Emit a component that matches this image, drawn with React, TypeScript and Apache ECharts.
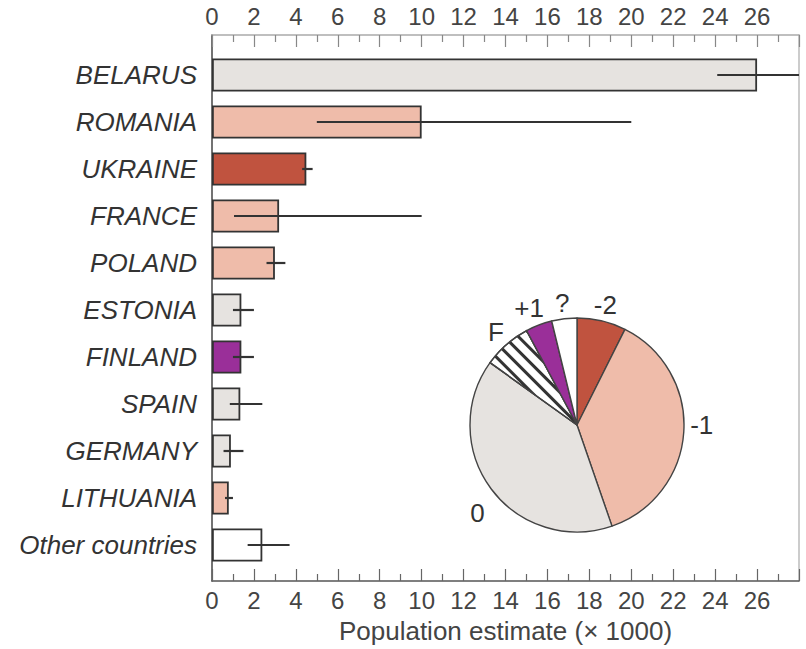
import React, { useEffect, useRef } from "react";
import * as echarts from "echarts";

const countries = [
  "BELARUS",
  "ROMANIA",
  "UKRAINE",
  "FRANCE",
  "POLAND",
  "ESTONIA",
  "FINLAND",
  "SPAIN",
  "GERMANY",
  "LITHUANIA",
  "Other countries",
];
const estimates = [26, 10, 4.5, 3.2, 3.0, 1.4, 1.4, 1.35, 0.9, 0.8, 2.4];
const errLow = [24.1, 5, 4.3, 1.05, 2.6, 1.0, 1.0, 0.85, 0.55, 0.62, 1.7];
const errHigh = [30, 20, 4.8, 10, 3.5, 2.0, 2.0, 2.4, 1.5, 1.0, 3.7];
const barColors = [
  "#e6e3e0",
  "#efbcaa",
  "#c0533f",
  "#efbcaa",
  "#efbcaa",
  "#e6e3e0",
  "#9a2f99",
  "#e6e3e0",
  "#e6e3e0",
  "#efbcaa",
  "#ffffff",
];

const pieLabels = ["-2", "-1", "0", "F", "+1", "?"];
const pieShares = [7.4, 37.3, 40.2, 7.3, 4.0, 3.8];
const pieColors = ["#c0533f", "#efbcaa", "#e6e3e0", "#ffffff", "#9a2f99", "#ffffff"];
const pieHatched = [false, false, false, true, false, false];

const axisMin = 0;
const axisMax = 28;
const axisInterval = 2;
const axisTitle = "Population estimate (\u00d7 1000)";

const FONT = "'Liberation Sans', Arial, Helvetica, sans-serif";

const labelOffsets: Record<string, number[]> = {
  "-1": [2, -8],
  "0": [-1, 14],
  "+1": [-4, -2],
};

export default function App() {
  const ref = useRef<HTMLDivElement>(null);

  useEffect(() => {
    if (!ref.current) return;
    const chart = echarts.init(ref.current, undefined, { renderer: "svg" });

    const tickAxisCommon = (position: "top" | "bottom", lineColor: string, tickColor: string) => ({
      type: "value",
      gridIndex: 0,
      position,
      min: axisMin,
      max: axisMax,
      interval: axisInterval,
      axisLine: { show: true, onZero: false, lineStyle: { color: lineColor, width: 1.5 } },
      axisTick: { show: true, inside: true, length: 12, lineStyle: { color: tickColor, width: 1.2 } },
      minorTick: { show: true, splitNumber: 2, length: 7, lineStyle: { color: tickColor, width: 1.2 } },
      splitLine: { show: false },
      minorSplitLine: { show: false },
      axisLabel: {
        show: true,
        showMaxLabel: false,
        fontSize: 24,
        color: "#444",
        fontFamily: FONT,
        margin: 7,
      },
    });

    const option: any = {
      animation: false,
      backgroundColor: "#ffffff",
      grid: [
        { left: 212, right: 7, top: 35, bottom: 66 },
        { left: 212, right: 7, top: 51.5, bottom: 80.5 },
      ],
      xAxis: [
        {
          ...tickAxisCommon("bottom", "#555", "#666"),
          name: axisTitle,
          nameLocation: "middle",
          nameGap: 37,
          nameTextStyle: { fontSize: 26, color: "#444", fontFamily: FONT },
        },
        tickAxisCommon("top", "#aaa", "#888"),
        {
          type: "value",
          gridIndex: 1,
          min: axisMin,
          max: axisMax,
          show: false,
        },
      ],
      yAxis: [
        {
          type: "value",
          gridIndex: 0,
          position: "left",
          min: 0,
          max: 1,
          axisLine: { show: true, onZero: false, lineStyle: { color: "#444", width: 1.5 } },
          axisTick: { show: false },
          axisLabel: { show: false },
          splitLine: { show: false },
        },
        {
          type: "value",
          gridIndex: 0,
          position: "right",
          min: 0,
          max: 1,
          axisLine: { show: true, onZero: false, lineStyle: { color: "#bbb", width: 1.5 } },
          axisTick: { show: false },
          axisLabel: { show: false },
          splitLine: { show: false },
        },
        {
          type: "category",
          gridIndex: 1,
          inverse: true,
          data: countries,
          axisLine: { show: false },
          axisTick: { show: false },
          axisLabel: {
            fontSize: 26,
            fontStyle: "italic",
            color: "#333",
            fontFamily: FONT,
            margin: 15,
          },
        },
      ],
      series: [
        {
          type: "bar",
          xAxisIndex: 2,
          yAxisIndex: 2,
          barWidth: 33,
          z: 2,
          data: estimates.map((v, i) => ({
            value: v,
            itemStyle: { color: barColors[i] },
          })),
          itemStyle: { borderColor: "#333", borderWidth: 1.8 },
          silent: true,
        },
        {
          type: "custom",
          xAxisIndex: 2,
          yAxisIndex: 2,
          z: 5,
          data: countries.map((_, i) => [errLow[i], errHigh[i], i]),
          encode: { x: [0, 1], y: 2 },
          silent: true,
          renderItem: (params: any, api: any) => {
            const a = api.coord([api.value(0), api.value(2)]);
            const b = api.coord([api.value(1), api.value(2)]);
            const cs = params.coordSys;
            const x2 = Math.min(b[0], cs.x + cs.width);
            return {
              type: "line",
              shape: { x1: a[0], y1: a[1], x2, y2: b[1] },
              style: { stroke: "#333", lineWidth: 2.2 },
            };
          },
        },
        {
          type: "pie",
          center: [577, 425],
          radius: 107,
          startAngle: 90,
          clockwise: true,
          silent: true,
          label: { show: false },
          labelLine: { show: false },
          itemStyle: { borderColor: "#444", borderWidth: 1.4 },
          data: pieLabels.map((n, i) => ({
            name: n,
            value: pieShares[i],
            itemStyle: pieHatched[i]
              ? {
                  color: "#ffffff",
                  decal: {
                    symbol: "rect",
                    symbolSize: 1,
                    color: "#333",
                    backgroundColor: "#ffffff",
                    dashArrayX: [1, 0],
                    dashArrayY: [2.5, 7],
                    rotation: Math.PI / 4,
                  },
                }
              : { color: pieColors[i] },
          })),
        },
        {
          type: "pie",
          center: [577, 425],
          radius: [107, 133],
          startAngle: 90,
          clockwise: true,
          silent: true,
          itemStyle: { color: "rgba(0,0,0,0)", borderWidth: 0 },
          label: {
            show: true,
            position: "inside",
            fontSize: 26,
            color: "#333",
            fontFamily: FONT,
          },
          labelLine: { show: false },
          emphasis: { disabled: true },
          data: pieLabels.map((n, i) => ({
            name: n,
            value: pieShares[i],
            label: labelOffsets[n] ? { offset: labelOffsets[n] } : undefined,
          })),
        },
      ],
    };

    chart.setOption(option);
    return () => chart.dispose();
  }, []);

  return (
    <div
      ref={ref}
      style={{ position: "fixed", left: 0, top: 0, width: 806, height: 649, background: "#fff" }}
    />
  );
}
